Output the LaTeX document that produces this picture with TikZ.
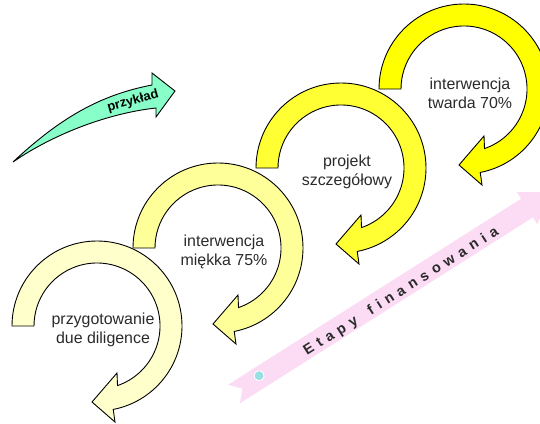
\documentclass[tikz,border=0pt]{standalone}
\usepackage{fontspec}
\setmainfont{Liberation Sans}
\usetikzlibrary{positioning}

\definecolor{creamfill}{HTML}{FFFFCC}
\definecolor{softfill}{HTML}{FFFF99}
\definecolor{brightfill}{HTML}{FFFF33}
\definecolor{hardfill}{HTML}{FFFF00}
\definecolor{mintfill}{HTML}{88FFC8}
\definecolor{bannerpink}{HTML}{FCDCF4}
\definecolor{dotcyan}{HTML}{99E0E4}
\definecolor{textgray}{HTML}{2A2A2A}

\begin{document}
\begin{tikzpicture}[
  x=1bp, y=1bp,
  stagetext/.style={font=\fontsize{16}{19}\selectfont, text=textgray, align=center, inner sep=0pt},
  bannertext/.style={font=\bfseries\fontsize{14.5}{16}\selectfont\addfontfeature{LetterSpace=38},
    text=textgray, anchor=base, inner sep=0pt},
  outline/.style={draw=black, line width=0.9bp, line join=miter},
  pics/turnarrow/.style={code={
    \path[outline, fill=#1] (180:85) arc[start angle=180, end angle=-79, radius=85]
      -- (18,-96) -- (-5,-76) -- (20,-47) -- (-71:63)
      arc[start angle=-71, end angle=180, radius=63] -- cycle;
  }}
]
\useasboundingbox (0,0) rectangle (540,423);
\clip (0,0) rectangle (540,423);

% financing banner
\begin{scope}[shift={(234,29)}, rotate=32.4, transform shape]
  \fill[bannerpink] (0,11) -- (347,11) -- (347,19) -- (377,0) -- (347,-19)
    -- (347,-11) -- (0,-11) -- (10,0) -- cycle;
  \node[circle, fill=dotcyan, draw=white, line width=0.8bp, minimum size=10bp, inner sep=0pt] (dot) at (31,2) {};
  \node[bannertext] (stages) at (196,-7) {Etapy\hspace{5bp} finansowania};
\end{scope}

% stage arrows
\pic at (97,97) {turnarrow=creamfill};
\pic at (218,175) {turnarrow=softfill};
\pic at (341,255) {turnarrow=brightfill};
\pic at (464,334) {turnarrow=hardfill};

\node[stagetext] (prep) at (103,93) {przygotowanie\\due diligence};
\node[stagetext] (soft) at (224,171) {interwencja\\miękka 75\%};
\node[stagetext] (design) at (347,251) {projekt\\szczegółowy};
\node[stagetext] (hard) at (470,330) {interwencja\\twarda 70\%};

% example arrow
\path[outline, fill=mintfill] (13,261) .. controls (60,305) and (100,328) .. (152,338)
  -- (152,350) -- (175,332) -- (156,306) -- (156,315)
  .. controls (110,310) and (55,290) .. (13,261) -- cycle;
\node[font=\bfseries\fontsize{13}{15}\selectfont, rotate=15.6, inner sep=0pt] (example) at (133,322) {przykład};
\end{tikzpicture}
\end{document}
